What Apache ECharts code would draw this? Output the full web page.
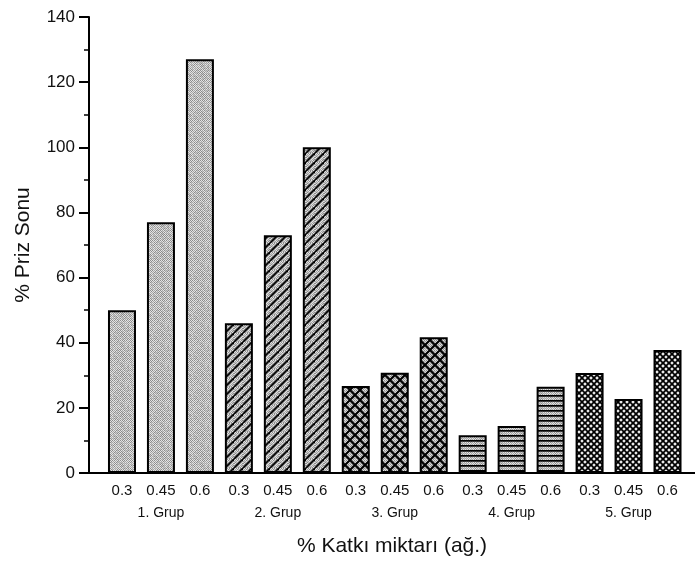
<!DOCTYPE html>
<html>
<head>
<meta charset="utf-8">
<script src="https://cdn.jsdelivr.net/npm/echarts@6/dist/echarts.min.js"></script>
<style>
  html, body { margin: 0; padding: 0; background: #fff; }
  #chart { width: 695px; height: 563px; }
</style>
</head>
<body>
<div id="chart"></div>
<script>
// data
const groups = ['1. Grup', '2. Grup', '3. Grup', '4. Grup', '5. Grup']
const doses = ['0.3', '0.45', '0.6']
const grup1 = [50, 77, 127]
const grup2 = [46, 73, 100]
const grup3 = [26.7, 30.8, 41.7]
const grup4 = [11.6, 14.4, 26.5]
const grup5 = [30.7, 22.7, 37.8]
const yTicks = [0, 20, 40, 60, 80, 100, 120, 140]

const FONT = '"Liberation Sans", Arial, sans-serif'

// soft gray grain used as the base of the fills (fixed hash, low contrast)
function stipple(ctx, w, h, base) {
  ctx.fillStyle = base
  ctx.fillRect(0, 0, w, h)
  for (let y = 0; y < h; y++) {
    for (let x = 0; x < w; x++) {
      const k = ((x * 2654435761) ^ (y * 40503 + x * y * 97)) >>> 0
      const r = k % 9
      if ((x + y) % 2 === 0) {
        ctx.fillStyle = r < 4 ? '#8c8c8c' : '#a6a6a6'
      } else {
        ctx.fillStyle = r < 3 ? '#c8c8c8' : '#e4e4e4'
      }
      ctx.fillRect(x, y, 1, 1)
    }
  }
}

function makePattern(kind) {
  const sizes = { dots: [20, 20], diag: [9, 9], cross: [10, 10], horiz: [20, 5], dense: [6, 6] }
  const [w, h] = sizes[kind]
  const c = document.createElement('canvas')
  c.width = w
  c.height = h
  const ctx = c.getContext('2d')
  if (kind === 'dense') {
    ctx.fillStyle = '#ececec'
    ctx.fillRect(0, 0, w, h)
  } else {
    stipple(ctx, w, h, '#bbbbbb')
  }
  ctx.strokeStyle = '#000'
  const line = (x1, y1, x2, y2) => {
    ctx.beginPath()
    ctx.moveTo(x1, y1)
    ctx.lineTo(x2, y2)
    ctx.stroke()
  }
  if (kind === 'diag') {
    ctx.lineWidth = 1.9
    for (let k = -1; k <= 1; k++) line(k * w, h, k * w + w, 0)
  } else if (kind === 'cross') {
    ctx.lineWidth = 2
    for (let k = -1; k <= 1; k++) {
      line(k * w, h, k * w + w, 0)
      line(k * w, 0, k * w + w, h)
    }
  } else if (kind === 'horiz') {
    ctx.lineWidth = 1.7
    line(0, 0.85, w, 0.85)
  } else if (kind === 'dense') {
    ctx.lineWidth = 1.7
    for (let k = -1; k <= 1; k++) {
      line(k * w, h, k * w + w, 0)
      line(k * w, 0, k * w + w, h)
    }
  }
  return { image: c, repeat: 'repeat' }
}

const fills = ['dots', 'diag', 'cross', 'horiz', 'dense'].map(makePattern)
const groupValues = [grup1, grup2, grup3, grup4, grup5]

const categories = []
const barData = []
groupValues.forEach((vals, g) => {
  vals.forEach((v, i) => {
    categories.push(doses[i])
    barData.push({
      value: v,
      itemStyle: { color: fills[g], borderColor: '#000', borderWidth: 2 }
    })
  })
})

const chart = echarts.init(document.getElementById('chart'), null, { renderer: 'canvas' })
chart.setOption({
  animation: false,
  backgroundColor: '#fff',
  grid: [
    { left: 89, right: 0, top: 17, bottom: 90 },
    { left: 102.5, right: 8, top: 17, bottom: 90 }
  ],
  xAxis: [
    {
      // frame axis: long baseline and the axis title
      type: 'value',
      gridIndex: 0,
      min: 0,
      max: 1,
      axisLine: { show: true, lineStyle: { color: '#000', width: 2 } },
      axisTick: { show: false },
      axisLabel: { show: false },
      splitLine: { show: false },
      name: '% Katkı miktarı (ağ.)',
      nameLocation: 'middle',
      nameGap: 63,
      nameTextStyle: { fontFamily: FONT, fontSize: 21, color: '#111' }
    },
    {
      type: 'category',
      gridIndex: 1,
      data: categories,
      axisLine: { show: false },
      axisTick: { show: false },
      axisLabel: { interval: 0, margin: 10, fontFamily: FONT, fontSize: 15, color: '#111' }
    },
    {
      type: 'category',
      gridIndex: 1,
      position: 'bottom',
      offset: 24,
      data: groups,
      axisLine: { show: false },
      axisTick: { show: false },
      axisLabel: { interval: 0, margin: 9, fontFamily: FONT, fontSize: 14, color: '#111' }
    }
  ],
  yAxis: [
    {
      type: 'value',
      gridIndex: 0,
      min: yTicks[0],
      max: yTicks[yTicks.length - 1],
      interval: yTicks[1] - yTicks[0],
      axisLine: { show: true, lineStyle: { color: '#000', width: 2 } },
      axisTick: { show: true, length: 10, lineStyle: { color: '#000', width: 2 } },
      minorTick: { show: true, splitNumber: 2, length: 5, lineStyle: { color: '#000', width: 1.5 } },
      splitLine: { show: false },
      axisLabel: { margin: 14, fontFamily: FONT, fontSize: 17, color: '#111' },
      name: '% Priz Sonu',
      nameLocation: 'middle',
      nameGap: 55,
      nameTextStyle: { fontFamily: FONT, fontSize: 21, color: '#111' }
    },
    {
      type: 'value',
      gridIndex: 1,
      min: yTicks[0],
      max: yTicks[yTicks.length - 1],
      show: false
    }
  ],
  series: [
    {
      type: 'bar',
      xAxisIndex: 1,
      yAxisIndex: 1,
      barWidth: 28,
      data: barData
    }
  ]
})
</script>
</body>
</html>
